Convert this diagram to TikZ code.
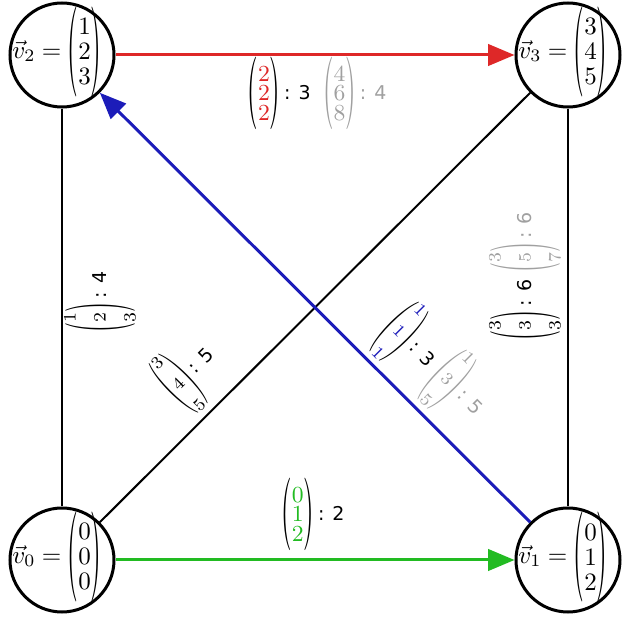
\documentclass[tikz,border=0pt]{standalone}
\usepackage{amsmath}
\usepackage{graphicx}
\usepackage{fontspec}
\newfontfamily\lblfont{DejaVu Sans}
\usetikzlibrary{arrows.meta}
\definecolor{myred}{RGB}{222,40,40}
\definecolor{myblue}{RGB}{28,28,185}
\definecolor{mygreen}{RGB}{34,187,34}
\definecolor{mygray}{RGB}{160,160,160}
% tall thin parenthesis
\newcommand\pp[3]{\vcenter{\hbox{\resizebox*{#1}{#2}{#3}}}}
% column vector: #1 paren width, #2 paren height, #3 row spacing, #4 entry font, #5-#7 entries
\newcommand\cv[7]{\pp{#1}{#2}{(}\vcenter{\baselineskip=#3\relax\lineskip=0pt\lineskiplimit=-100pt\halign{\hfil{#4##}\hfil\cr#5\cr#6\cr#7\cr}}\pp{#1}{#2}{)}}
\newcommand\sfl{\hspace{1.5pt}\lblfont\fontsize{7.6}{9}\selectfont}
% node text: vector with fixed circle size
\newcommand\nt[4]{\makebox[0pt]{\raisebox{-2.5pt}{$\smash{\vec v_{#1}\mkern4.5mu{=}\mkern4.5mu\cv{4.3pt}{36pt}{10pt}{\fontsize{10}{12}\selectfont}{#2}{#3}{#4}}$}\hspace{4pt}}}
% horizontal label vector
\newcommand\hv[4]{$\cv{4.2pt}{29pt}{7.8pt}{\fontsize{9.2}{11}\selectfont#1}{#2}{#3}{#4}$}
% rotated label vector
\newcommand\sv[4]{$\cv{4pt}{28pt}{12pt}{\fontsize{7}{8}\selectfont#1}{#2}{#3}{#4}$}
\begin{document}
\begin{tikzpicture}[x=0.4pt,y=-0.4pt,
  vnode/.style={circle,draw,line width=1.2pt,minimum size=41.6pt,inner sep=0pt},
  edge/.style={line width=0.8pt},
  arr/.style={line width=1.2pt,-{Triangle[length=10.5pt,width=8.5pt]}},
  lbl/.style={inner sep=0pt}]
\useasboundingbox (0,0) rectangle (629,620);
\node[vnode] (v2) at (62,55) {\nt{2}{1}{2}{3}};
\node[vnode] (v3) at (568,55) {\nt{3}{3}{4}{5}};
\node[vnode] (v0) at (62,560) {\nt{0}{0}{0}{0}};
\node[vnode] (v1) at (568,560) {\nt{1}{0}{1}{2}};
\draw[edge] (v2) -- (v0);
\draw[edge] (v3) -- (v1);
\draw[edge] (v0) -- (v3);
\draw[arr,myred] (v2) -- (v3);
\draw[arr,mygreen] (v0) -- (v1);
\draw[arr,myblue] (v1) -- (v2);
\node[lbl] (l23) at (317,93) {\hv{\color{myred}}{2}{2}{2}{\sfl: 3}\hspace{5pt}{\color{mygray}\hv{}{4}{6}{8}{\sfl: 4}}};
\node[lbl] (l01) at (313,514) {\hv{\color{mygreen}}{0}{1}{2}{\sfl: 2}};
\node[lbl,rotate=90] (l02) at (100,302) {\sv{}{1}{2}{3}{\sfl: 4}};
\node[lbl,rotate=90] (l31) at (525,276) {\sv{}{3}{3}{3}{\sfl: 6}\hspace{3pt}{\color{mygray}\sv{}{3}{5}{7}{\sfl: 6}}};
\node[lbl,rotate=45] (l03) at (189,373) {\sv{}{3}{4}{5}{\sfl: 5}};
\node[lbl,rotate=-45] (l12) at (434,366) {\sv{\color{myblue}}{1}{1}{1}{\sfl: 3}\hspace{3pt}{\color{mygray}\sv{}{1}{3}{5}{\sfl: 5}}};
\end{tikzpicture}
\end{document}
